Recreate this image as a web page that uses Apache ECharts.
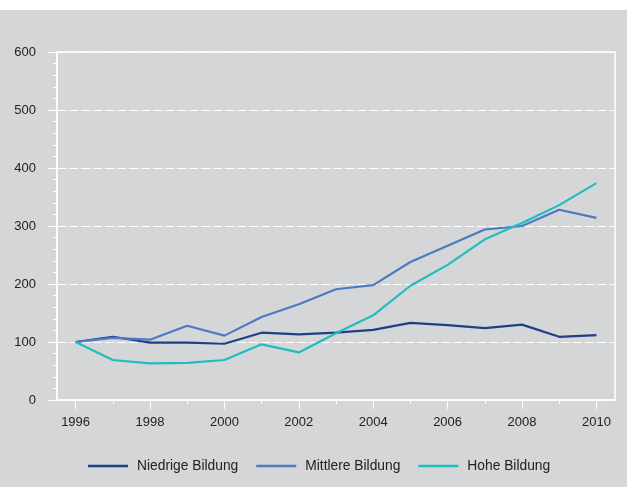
<!DOCTYPE html>
<html>
<head>
<meta charset="utf-8">
<script src="https://cdn.jsdelivr.net/npm/echarts@6/dist/echarts.min.js"></script>
<style>
  html, body { margin: 0; padding: 0; background: #ffffff; }
  #chart { position: absolute; left: 0; top: 10px; width: 627px; height: 477px; background: #d5d6d8; }
</style>
</head>
<body>
<div id="chart"></div>
<script>
// Index (1996 = 100) by education level
const years = ['1996','1997','1998','1999','2000','2001','2002','2003','2004','2005','2006','2007','2008','2009','2010'];
const niedrige = [100, 109, 99, 99, 97, 116, 113, 116, 121, 133, 129, 124, 130, 109, 112];
const mittlere = [100, 107, 104, 128, 111, 143, 165, 191, 198, 238, 266, 294, 300, 328, 314];
const hohe     = [100, 69, 63, 64, 69, 96, 82, 115, 146, 197, 233, 277, 305, 336, 374];
const yTicks = [0, 100, 200, 300, 400, 500, 600];

const seriesNames = ['Niedrige Bildung', 'Mittlere Bildung', 'Hohe Bildung'];
const colors = ['#1f3f86', '#4a7bc3', '#1fbcc0'];

const chart = echarts.init(document.getElementById('chart'), null, { renderer: 'canvas' });
const font = 'Liberation Sans, Arial, sans-serif';

chart.setOption({
  animation: false,
  color: colors,
  textStyle: { fontFamily: font },
  grid: {
    left: 57, right: 12, top: 42, bottom: 87,
    show: true, borderColor: '#ffffff', borderWidth: 1.5, backgroundColor: 'transparent'
  },
  legend: {
    left: 88, top: 449, padding: 0,
    icon: 'rect', itemWidth: 40, itemHeight: 2.5, itemGap: 18,
    textStyle: { color: '#222222', fontSize: 13.8, fontFamily: font, padding: [0, 0, 0, 4] },
    data: seriesNames
  },
  xAxis: [
    {
      type: 'category', data: years, boundaryGap: true,
      axisLine: { show: true, lineStyle: { color: '#ffffff', width: 1.5 } },
      axisTick: { show: true, alignWithLabel: true, interval: 0, length: 4, lineStyle: { color: '#ffffff', width: 1 } },
      axisLabel: {
        interval: 1, color: '#222222', fontSize: 13, fontFamily: font, margin: 16
      },
      splitLine: { show: false }
    },
    {
      type: 'category', data: years, boundaryGap: true, position: 'bottom',
      axisLine: { show: false },
      axisTick: { show: true, alignWithLabel: true, interval: 1, length: 9, lineStyle: { color: '#ffffff', width: 1 } },
      axisLabel: { show: false },
      splitLine: { show: false }
    }
  ],
  yAxis: {
    type: 'value', min: yTicks[0], max: yTicks[yTicks.length - 1], interval: 100,
    axisLine: { show: true, lineStyle: { color: '#ffffff', width: 1.5 } },
    axisTick: { show: true, length: 9, lineStyle: { color: '#ffffff', width: 1 } },
    minorTick: { show: true, splitNumber: 5, length: 4, lineStyle: { color: '#ffffff', width: 1 } },
    axisLabel: { color: '#222222', fontSize: 13, fontFamily: font, margin: 21 },
    splitLine: { show: true, lineStyle: { color: '#ffffff', width: 1, type: [9, 3] } }
  },
  series: [
    { name: seriesNames[0], type: 'line', data: niedrige, symbol: 'none', lineStyle: { width: 2.2 } },
    { name: seriesNames[1], type: 'line', data: mittlere, symbol: 'none', lineStyle: { width: 2.2 } },
    { name: seriesNames[2], type: 'line', data: hohe, symbol: 'none', lineStyle: { width: 2.2 } }
  ]
});
</script>
</body>
</html>
